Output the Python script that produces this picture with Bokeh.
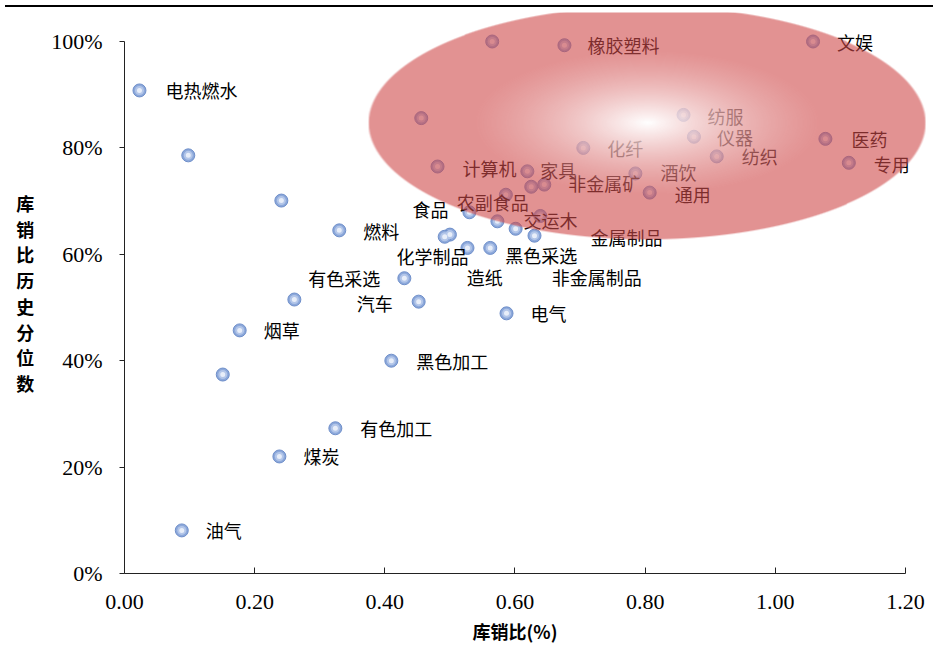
import numpy as np
from bokeh.plotting import figure
from bokeh.models import Range1d, ColumnDataSource, FixedTicker, NumeralTickFormatter, Div, Title
from bokeh.layouts import column
from bokeh.embed import file_html
from bokeh.resources import INLINE
from bokeh.core.properties import value

# ---------------- data ----------------
industries = ["电热燃水", "", "", "燃料", "有色采选", "", "汽车", "烟草", "", "黑色加工",
              "有色加工", "煤炭", "油气", "电气", "食品", "交运木", "非金属制品", "金属制品", "", "造纸",
              "化学制品", "黑色采选", "农副食品", "", "", "非金属矿", "家具", "计算机", "", "橡胶塑料",
              "", "化纤", "纺服", "仪器", "纺织", "酒饮", "通用", "文娱", "医药", "专用"]
stock_sales_ratio = [0.023, 0.098, 0.241, 0.330, 0.430, 0.261, 0.452, 0.177, 0.151, 0.410,
                     0.324, 0.238, 0.088, 0.587, 0.530, 0.573, 0.601, 0.630, 0.500, 0.492,
                     0.527, 0.562, 0.586, 0.639, 0.625, 0.645, 0.619, 0.481, 0.565, 0.676,
                     0.456, 0.705, 0.859, 0.875, 0.910, 0.785, 0.807, 1.058, 1.077, 1.113]
hist_percentile = [0.908, 0.786, 0.701, 0.645, 0.555, 0.515, 0.511, 0.457, 0.374, 0.400,
                   0.273, 0.220, 0.081, 0.489, 0.679, 0.662, 0.648, 0.635, 0.637, 0.633,
                   0.612, 0.612, 0.712, 0.672, 0.727, 0.731, 0.756, 0.765, 1.000, 0.993,
                   0.856, 0.800, 0.862, 0.821, 0.784, 0.752, 0.716, 1.000, 0.817, 0.772]
x_ticks = [0.0, 0.2, 0.4, 0.6, 0.8, 1.0, 1.2]
y_ticks = [0.0, 0.2, 0.4, 0.6, 0.8, 1.0]

# label placement (screen px offsets from each point) -- layout only
label_dx = [26, 0, 0, 24, -24, 0, -26, 24, 0, 25,
            25, 24, 24, 24, -21, 26, 36, 56, 0, 22,
            1, 15, -49, 0, 0, 24, 13, 25, 0, 23,
            0, 24, 24, 23, 25, 25, 25, 24, 26, 25]
label_dy = [0, 0, 0, 1, 0, 0, 1, 0, 0, 0,
            0, 0, 0, 0, -3, -1, 48, 1, 0, 40,
            8, 7, 7, 0, 0, -2, -1, 1, 0, 0,
            0, 0, 1, 0, 0, -1, 1, 0, 0, 1]
label_align = ["left", "", "", "left", "right", "", "right", "left", "", "left",
               "left", "left", "left", "left", "right", "left", "left", "left", "", "left",
               "right", "left", "left", "", "", "left", "left", "left", "", "left",
               "", "left", "left", "left", "left", "left", "left", "left", "left", "left"]

# ---------------- geometry / style ----------------
PX_PER_X = 650.8
PX_PER_Y = 532.0
FRAME_W, FRAME_H = 804, 561
X_END = FRAME_W / PX_PER_X
Y_END = FRAME_H / PX_PER_Y
ELL_CX, ELL_CY, ELL_W, ELL_H = 0.803, 0.847, 0.856, 0.438

p = figure(width=928, height=636, output_backend="svg", toolbar_location=None,
           x_range=Range1d(0, X_END), y_range=Range1d(0, Y_END),
           min_border_left=124, min_border_right=0, min_border_top=0,
           min_border_bottom=636 - FRAME_H)
p.outline_line_color = None
p.grid.visible = False
p.background_fill_color = "white"
p.border_fill_color = "white"

TICK_FONT = "Liberation Serif"
for ax in (p.xaxis[0], p.yaxis[0]):
    ax.axis_line_color = "#222222"
    ax.major_tick_line_color = "#222222"
    ax.minor_tick_line_color = None
    ax.major_label_text_font = TICK_FONT
    ax.major_label_text_font_size = "22px"
    ax.major_label_text_color = "black"
    ax.axis_label_text_font = "Noto Sans CJK SC"
    ax.axis_label_text_font_style = "bold"
    ax.axis_label_text_color = "black"

xa = p.xaxis[0]
xa.ticker = FixedTicker(ticks=x_ticks)
xa.formatter = NumeralTickFormatter(format="0.00")
xa.bounds = (0, 1.2)
xa.major_tick_in = 6
xa.major_tick_out = 0
xa.major_label_standoff = 21

ya = p.yaxis[0]
ya.ticker = FixedTicker(ticks=y_ticks)
ya.formatter = NumeralTickFormatter(format="0%")
ya.bounds = (0, 1.0)
ya.major_tick_in = 0
ya.major_tick_out = 5
ya.major_label_standoff = 17
ya.axis_label = "\n".join("库销比历史分位数")
ya.axis_label_text_font_size = "18px"
ya.axis_label_text_line_height = 0.99
ya.axis_label_standoff = 14
try:
    ya.axis_label_orientation = "horizontal"
except Exception:
    ya.axis_label = "库销比历史分位数"

x_title = Title(text="库销比(%)", align="left", offset=348, standoff=8,
                text_font="Noto Sans CJK SC", text_font_style="bold",
                text_font_size="18px", text_color="black")
p.add_layout(x_title, "below")

# ---------------- points ----------------
src = ColumnDataSource(dict(x=stock_sales_ratio, y=hist_percentile))
p.scatter("x", "y", source=src, size=13, fill_color="#8CA8DA", line_color="#6F8FCA", line_width=1)
p.scatter("x", "y", source=src, size=9, fill_color="#B3C6E9", line_color=None)
p.scatter("x", "y", source=src, size=5, fill_color="#E8EEF9", line_color=None)

# ---------------- labels ----------------
for al in ("left", "right"):
    ids = [i for i, a in enumerate(label_align) if a == al]
    lsrc = ColumnDataSource(dict(
        x=[stock_sales_ratio[i] for i in ids],
        y=[hist_percentile[i] for i in ids],
        t=[industries[i] for i in ids],
        dx=[label_dx[i] for i in ids],
        dy=[label_dy[i] for i in ids]))
    p.text("x", "y", text="t", source=lsrc, x_offset="dx", y_offset="dy",
           text_font=value("Noto Sans CJK SC"), text_font_size="18px",
           text_color="black", text_align=al, text_baseline="middle")

# ---------------- highlight ellipse (radial gradient, semi-transparent) ----------------
nx, ny = 560, 234
yy, xx = np.mgrid[0:ny, 0:nx]
u = (xx + 0.5) / nx * 2 - 1
v = (yy + 0.5) / ny * 2 - 1
r = np.sqrt(u * u + v * v)
t = np.clip(r / 0.62, 0, 1)
edge = np.array([207.0, 73.0, 73.0])
rgb = 255.0 * (1 - t)[..., None] + edge * t[..., None]
alpha = 0.88 * (1 - t) + 0.60 * t
alpha = alpha * np.clip((1 - r) * 117 + 0.5, 0, 1)
img = np.zeros((ny, nx), dtype=np.uint32)
view = img.view(dtype=np.uint8).reshape((ny, nx, 4))
view[..., 0] = np.round(rgb[..., 0]).astype(np.uint8)
view[..., 1] = np.round(rgb[..., 1]).astype(np.uint8)
view[..., 2] = np.round(rgb[..., 2]).astype(np.uint8)
view[..., 3] = np.round(alpha * 255).astype(np.uint8)
p.image_rgba(image=[img], x=ELL_CX - ELL_W / 2, y=ELL_CY - ELL_H / 2, dw=ELL_W, dh=ELL_H)

top_rule = Div(width=928, height=2, styles={"background-color": "#000000"})
layout = column(top_rule, p)

open("out.html", "w").write(file_html(layout, INLINE))
